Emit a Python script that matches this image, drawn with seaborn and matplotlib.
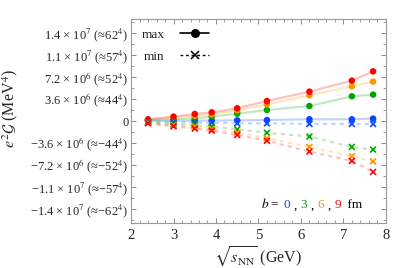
import numpy as np
import pandas as pd
import matplotlib
matplotlib.use("Agg")
import matplotlib.pyplot as plt
from matplotlib.lines import Line2D
from matplotlib.ticker import FixedLocator, MultipleLocator
from matplotlib.offsetbox import TextArea, HPacker, AnchoredOffsetbox
import seaborn as sns

# collision energies (GeV)
sqrt_s = [2.4, 3.0, 3.5, 3.9, 4.5, 5.2, 6.2, 7.2, 7.7]
impact = ["0", "3", "6", "9"]

# e^2 G in units of 1e6 MeV^4
max_b0 = [0.03, 0.03, 0.07, 0.07, 0.11, 0.16, 0.28, 0.28, 0.39]
max_b3 = [0.11, 0.28, 0.44, 0.72, 1.21, 1.80, 2.45, 4.04, 4.32]
max_b6 = [0.20, 0.52, 0.85, 1.10, 1.75, 2.73, 4.20, 5.68, 6.45]
max_b9 = [0.28, 0.72, 1.15, 1.42, 2.08, 3.27, 4.81, 6.61, 8.13]
min_b0 = [-0.13, -0.20, -0.26, -0.30, -0.38, -0.38, -0.49, -0.49, -0.49]
min_b3 = [-0.21, -0.54, -0.65, -0.92, -1.36, -1.93, -2.55, -4.25, -4.68]
min_b6 = [-0.30, -0.70, -0.92, -1.31, -1.90, -2.83, -4.25, -5.78, -6.60]
min_b9 = [-0.38, -0.87, -1.24, -1.57, -2.29, -3.24, -5.00, -6.54, -8.34]

ytick_vals = [-14.4, -10.8, -7.2, -3.6, 0, 3.6, 7.2, 10.8, 14.4]
ytick_labels = [
    "\u22121.4 \u00d7 10$^{7}$ (\u2248\u221262$^{4}$)",
    "\u22121.1 \u00d7 10$^{7}$ (\u2248\u221257$^{4}$)",
    "\u22127.2 \u00d7 10$^{6}$ (\u2248\u221252$^{4}$)",
    "\u22123.6 \u00d7 10$^{6}$ (\u2248\u221244$^{4}$)",
    "0",
    "3.6 \u00d7 10$^{6}$ (\u224844$^{4}$)",
    "7.2 \u00d7 10$^{6}$ (\u224852$^{4}$)",
    "1.1 \u00d7 10$^{7}$ (\u224857$^{4}$)",
    "1.4 \u00d7 10$^{7}$ (\u224862$^{4}$)",
]

colors = {"0": "#0a45ff", "3": "#00a500", "6": "#ff9500", "9": "#ff0000"}

rows = []
for b, mx, mn in zip(impact, [max_b0, max_b3, max_b6, max_b9],
                     [min_b0, min_b3, min_b6, min_b9]):
    for s, v in zip(sqrt_s, mx):
        rows.append({"sqrt_s": s, "G": v * 1e6, "b": b, "kind": "max"})
    for s, v in zip(sqrt_s, mn):
        rows.append({"sqrt_s": s, "G": v * 1e6, "b": b, "kind": "min"})
df = pd.DataFrame(rows)

sns.set_style("ticks")
plt.rcParams["font.family"] = ["Liberation Serif", "DejaVu Serif"]
plt.rcParams["mathtext.fontset"] = "stix"

fig, ax = plt.subplots(figsize=(4.07, 2.68), dpi=100)
fig.subplots_adjust(left=0.322, right=0.948, top=0.929, bottom=0.168)

sns.lineplot(data=df, x="sqrt_s", y="G", hue="b", style="kind",
             palette=colors, dashes={"max": "", "min": (2, 2)},
             linewidth=1.5, alpha=0.25, legend=False, ax=ax)
sns.scatterplot(data=df[df.kind == "max"], x="sqrt_s", y="G", hue="b",
                palette=colors, marker="o", s=22, linewidth=0,
                legend=False, zorder=3, ax=ax)
sns.scatterplot(data=df[df.kind == "min"], x="sqrt_s", y="G", hue="b",
                palette=colors, marker="x", s=18, linewidth=1.2,
                legend=False, zorder=3, ax=ax)

ax.set_xlim(2, 8)
ax.set_ylim(-1.67e7, 1.67e7)
ax.xaxis.set_major_locator(MultipleLocator(1))
ax.xaxis.set_minor_locator(MultipleLocator(0.2))
ax.yaxis.set_major_locator(FixedLocator([v * 1e6 for v in ytick_vals]))
ax.yaxis.set_minor_locator(MultipleLocator(1.8e6))
ax.set_yticklabels(ytick_labels)

ax.tick_params(which="both", direction="in", top=True, right=True,
               color="#777777", labelsize=9, pad=2)
ax.tick_params(which="major", length=3.5, width=0.6)
ax.tick_params(which="minor", length=2, width=0.5)
ax.tick_params(axis="x", labelsize=10.5, pad=4)
for sp in ax.spines.values():
    sp.set_color("#999999")
    sp.set_linewidth(0.8)

ax.set_xlabel(r"$\sqrt{s_{\rm NN}}$ (GeV)", fontsize=11.5)
ax.set_ylabel(r"$e^2\mathcal{G}$ (MeV$^4$)", fontsize=11.5)
ax.yaxis.set_label_coords(-0.435, 0.56)
ax.xaxis.set_label_coords(0.5, -0.105)

handles = [
    Line2D([], [], color="black", lw=1.2, marker="o", markersize=5.5),
    Line2D([], [], color="black", lw=1.0, ls=(0, (2, 2)), marker="x",
           markersize=5.5, markeredgewidth=1.1),
]
ax.legend(handles, ["max", "min"], loc="upper left", frameon=False,
          markerfirst=False, fontsize=9.5, handlelength=2.2,
          labelspacing=0.75, borderaxespad=0.0, handletextpad=1.2,
          bbox_to_anchor=(0.02, 0.98))

parts = [TextArea(r"$b$ =", textprops=dict(fontsize=9.5, color="black"))]
for i, b in enumerate(impact):
    parts.append(TextArea(b, textprops=dict(fontsize=9.5, color=colors[b])))
    if i < len(impact) - 1:
        parts.append(TextArea(",", textprops=dict(fontsize=9.5, color="black")))
parts.append(TextArea(" fm", textprops=dict(fontsize=9.5, color="black")))
box = HPacker(children=parts, align="baseline", pad=0, sep=2.5)
anch = AnchoredOffsetbox(loc="lower right", child=box, frameon=False,
                         bbox_to_anchor=(0.93, 0.03),
                         bbox_transform=ax.transAxes, borderpad=0)
ax.add_artist(anch)

fig.savefig("out.png", dpi=100)
